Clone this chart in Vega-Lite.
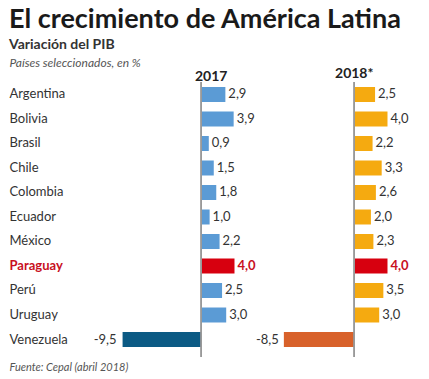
{
  "$schema": "https://vega.github.io/schema/vega-lite/v6.json",
  "padding": {"left": 9, "top": 6, "right": 5, "bottom": 5},
  "background": "white",
  "config": {
    "view": {"stroke": null},
    "font": "Lato",
    "locale": {"number": {"decimal": ",", "thousands": ".", "grouping": [3], "currency": ["", " €"], "minus": "-"}},
    "concat": {"spacing": 0}
  },
  "title": {
    "text": "El crecimiento de América Latina",
    "subtitle": "Variación del PIB",
    "anchor": "start",
    "font": "Lato",
    "fontSize": 27,
    "fontWeight": "bold",
    "color": "#1a1a1a",
    "subtitleFont": "Lato",
    "subtitleFontSize": 14,
    "subtitleFontWeight": "bold",
    "subtitleColor": "#333333",
    "subtitlePadding": 4,
    "offset": 3
  },
  "data": {
    "values": [
      {"pais": "Argentina", "anio": "2017", "valor": 2.9},
      {"pais": "Bolivia", "anio": "2017", "valor": 3.9},
      {"pais": "Brasil", "anio": "2017", "valor": 0.9},
      {"pais": "Chile", "anio": "2017", "valor": 1.5},
      {"pais": "Colombia", "anio": "2017", "valor": 1.8},
      {"pais": "Ecuador", "anio": "2017", "valor": 1.0},
      {"pais": "México", "anio": "2017", "valor": 2.2},
      {"pais": "Paraguay", "anio": "2017", "valor": 4.0},
      {"pais": "Perú", "anio": "2017", "valor": 2.5},
      {"pais": "Uruguay", "anio": "2017", "valor": 3.0},
      {"pais": "Venezuela", "anio": "2017", "valor": -9.5},
      {"pais": "Argentina", "anio": "2018*", "valor": 2.5},
      {"pais": "Bolivia", "anio": "2018*", "valor": 4.0},
      {"pais": "Brasil", "anio": "2018*", "valor": 2.2},
      {"pais": "Chile", "anio": "2018*", "valor": 3.3},
      {"pais": "Colombia", "anio": "2018*", "valor": 2.6},
      {"pais": "Ecuador", "anio": "2018*", "valor": 2.0},
      {"pais": "México", "anio": "2018*", "valor": 2.3},
      {"pais": "Paraguay", "anio": "2018*", "valor": 4.0},
      {"pais": "Perú", "anio": "2018*", "valor": 3.5},
      {"pais": "Uruguay", "anio": "2018*", "valor": 3.0},
      {"pais": "Venezuela", "anio": "2018*", "valor": -8.5}
    ]
  },
  "hconcat": [
    {
      "width": 143,
      "height": 275,
      "title": {"text": "2017", "anchor": "start", "dx": 186, "fontSize": 14, "fontWeight": "bold", "color": "#222222", "font": "Lato", "offset": -28},
      "transform": [{"filter": "datum.anio === '2017'"}],
      "layer": [
        {
          "mark": {"type": "bar"},
          "encoding": {
            "y": {
              "field": "pais", "type": "nominal", "sort": null,
              "scale": {"paddingInner": 0.388, "paddingOuter": 0.306, "align": 0.333},
              "axis": {
                "title": "Países seleccionados, en %",
                "titleAngle": 0, "titleAlign": "left", "titleBaseline": "alphabetic",
                "titleX": -97, "titleY": -16,
                "titleFont": "Lato", "titleFontSize": 12, "titleFontStyle": "italic", "titleFontWeight": "normal", "titleColor": "#555555",
                "ticks": false, "domain": false, "grid": false,
                "labelAlign": "left", "labelPadding": 97, "labelFontSize": 13, "labelFont": "Lato",
                "labelColor": {"condition": {"test": "datum.value === 'Paraguay'", "value": "#c8101e"}, "value": "#333333"},
                "labelFontWeight": {"condition": {"test": "datum.value === 'Paraguay'", "value": "bold"}, "value": "normal"}
              }
            },
            "x": {"field": "valor", "type": "quantitative", "scale": {"domain": [-11.5, 5.75], "nice": false},
              "axis": {
                "title": "Fuente: Cepal (abril 2018)", "labels": false, "ticks": false, "domain": false, "grid": false,
                "titleAnchor": "start", "titleAlign": "left", "titleBaseline": "alphabetic", "titleX": -97, "titleY": 13,
                "titleFont": "Lato", "titleFontSize": 11, "titleFontStyle": "italic", "titleFontWeight": "normal", "titleColor": "#555555"
              }
            },
            "color": {
              "condition": [
                {"test": "datum.pais === 'Paraguay'", "value": "#d7000f"},
                {"test": "datum.valor < 0", "value": "#0b5a84"}
              ],
              "value": "#5b9bd5"
            }
          }
        },
        {
          "mark": {"type": "rule", "color": "#999999", "strokeWidth": 1},
          "encoding": {"x": {"datum": 0}}
        },
        {
          "transform": [{"filter": "datum.valor >= 0"}],
          "mark": {"type": "text", "align": "left", "dx": 3, "fontSize": 13, "font": "Lato",
            "fontWeight": {"expr": "datum.pais === 'Paraguay' ? 'bold' : 'normal'"}},
          "encoding": {
            "y": {"field": "pais", "type": "nominal", "sort": null},
            "x": {"field": "valor", "type": "quantitative"},
            "text": {"field": "valor", "type": "quantitative", "format": ".1f"},
            "color": {"condition": {"test": "datum.pais === 'Paraguay'", "value": "#c8101e"}, "value": "#333333"}
          }
        },
        {
          "transform": [{"filter": "datum.valor < 0"}],
          "mark": {"type": "text", "align": "right", "dx": -6, "fontSize": 13, "font": "Lato", "color": "#333333"},
          "encoding": {
            "y": {"field": "pais", "type": "nominal", "sort": null},
            "x": {"field": "valor", "type": "quantitative"},
            "text": {"field": "valor", "type": "quantitative", "format": ".1f"}
          }
        }
      ]
    },
    {
      "width": 143,
      "height": 275,
      "title": {"text": "2018*", "anchor": "start", "dx": 79, "fontSize": 14, "fontWeight": "bold", "color": "#222222", "font": "Lato", "offset": 1},
      "transform": [{"filter": "datum.anio === '2018*'"}],
      "layer": [
        {
          "mark": {"type": "bar"},
          "encoding": {
            "y": {
              "field": "pais", "type": "nominal", "sort": null,
              "scale": {"paddingInner": 0.388, "paddingOuter": 0.306, "align": 0.333},
              "axis": null
            },
            "x": {"field": "valor", "type": "quantitative", "scale": {"domain": [-11.5, 5.75], "nice": false}, "axis": null},
            "color": {
              "condition": [
                {"test": "datum.pais === 'Paraguay'", "value": "#d7000f"},
                {"test": "datum.valor < 0", "value": "#d8612a"}
              ],
              "value": "#f5aa10"
            }
          }
        },
        {
          "mark": {"type": "rule", "color": "#999999", "strokeWidth": 1},
          "encoding": {"x": {"datum": 0}}
        },
        {
          "transform": [{"filter": "datum.valor >= 0"}],
          "mark": {"type": "text", "align": "left", "dx": 3, "fontSize": 13, "font": "Lato",
            "fontWeight": {"expr": "datum.pais === 'Paraguay' ? 'bold' : 'normal'"}},
          "encoding": {
            "y": {"field": "pais", "type": "nominal", "sort": null},
            "x": {"field": "valor", "type": "quantitative"},
            "text": {"field": "valor", "type": "quantitative", "format": ".1f"},
            "color": {"condition": {"test": "datum.pais === 'Paraguay'", "value": "#c8101e"}, "value": "#333333"}
          }
        },
        {
          "transform": [{"filter": "datum.valor < 0"}],
          "mark": {"type": "text", "align": "right", "dx": -5, "fontSize": 13, "font": "Lato", "color": "#333333"},
          "encoding": {
            "y": {"field": "pais", "type": "nominal", "sort": null},
            "x": {"field": "valor", "type": "quantitative"},
            "text": {"field": "valor", "type": "quantitative", "format": ".1f"}
          }
        }
      ]
    }
  ]
}
